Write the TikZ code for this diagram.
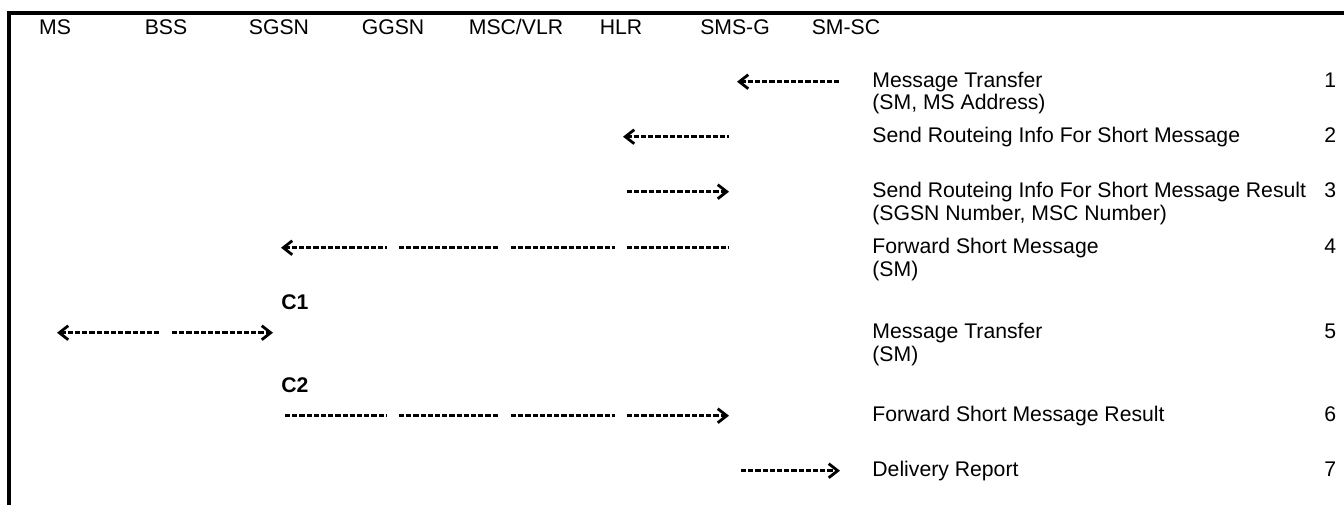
\documentclass[tikz,border=0pt]{standalone}
\usepackage{fontspec}
\setmainfont{Liberation Sans}
\usetikzlibrary{arrows.meta}

\begin{document}
\begin{tikzpicture}[x=0.5pt, y=-0.5pt,
    font=\fontsize{10.6}{12.7}\selectfont,
    hdr/.style={anchor=base, inner sep=0pt},
    lbl/.style={anchor=base west, inner sep=0pt},
    tag/.style={anchor=base west, inner sep=0pt, font=\fontsize{10.6}{12.7}\selectfont\bfseries},
    msg/.style={line width=1.7pt, dash pattern=on 2.6pt off 1pt, shorten <=3pt, shorten >=3pt},
    fwd/.style={msg, -{Straight Barb[length=4.5pt, width=7pt, line width=1.4pt]}},
    bwd/.style={msg, shorten <=1pt, {Straight Barb[length=4.5pt, width=7pt, line width=1.4pt]}-}]
    \useasboundingbox (0,0) rectangle (1344,505);
    % frame
    \draw[line width=2pt] (9,505) -- (9,13) -- (1344,13);
    % header
    \node[hdr] (ms)   at (55,34)  {MS};
    \node[hdr] (bss)  at (166,34) {BSS};
    \node[hdr] (sgsn) at (279,34) {SGSN};
    \node[hdr] (ggsn) at (393,34) {GGSN};
    \node[hdr] (msc)  at (516,34) {MSC/VLR};
    \node[hdr] (hlr)  at (621,34) {HLR};
    \node[hdr] (smsg) at (735,34) {SMS-G};
    \node[hdr] (smsc) at (846,34) {SM-SC};
    \coordinate (mscl) at ([xshift=-5.5pt]msc.base);
    % messages
    \node[lbl] (m1)  at (872,87)  {Message Transfer};
    \node[lbl] (m1b) at (872,109) {(SM, MS Address)};
    \node[lbl] (m2)  at (872,142) {Send Routeing Info For Short Message};
    \node[lbl] (m3)  at (872,197) {Send Routeing Info For Short Message Result};
    \node[lbl] (m3b) at (872,220) {(SGSN Number, MSC Number)};
    \node[lbl] (m4)  at (872,253) {Forward Short Message};
    \node[lbl] (m4b) at (872,276) {(SM)};
    \node[lbl] (m5)  at (872,338) {Message Transfer};
    \node[lbl] (m5b) at (872,361) {(SM)};
    \node[lbl] (m6)  at (872,421) {Forward Short Message Result};
    \node[lbl] (m7)  at (872,476) {Delivery Report};
    % step numbers
    \node[lbl] (n1) at (1324,87)  {1};
    \node[lbl] (n2) at (1324,142) {2};
    \node[lbl] (n3) at (1324,197) {3};
    \node[lbl] (n4) at (1324,253) {4};
    \node[lbl] (n5) at (1324,338) {5};
    \node[lbl] (n6) at (1324,421) {6};
    \node[lbl] (n7) at (1324,476) {7};
    \node[tag] (c1) at (281,309) {C1};
    \node[tag] (c2) at (281,392) {C2};
    % arrows
    \draw[bwd] (smsg |- m1.mid) -- (smsc |- m1.mid);
    \draw[bwd] (hlr |- m2.mid) -- (smsg |- m2.mid);
    \draw[fwd] (hlr |- m3.mid) -- (smsg |- m3.mid);
    \draw[bwd] (sgsn |- m4.mid) -- (ggsn |- m4.mid);
    \draw[msg] (ggsn |- m4.mid) -- (mscl |- m4.mid);
    \draw[msg] (mscl |- m4.mid) -- (hlr |- m4.mid);
    \draw[msg] (hlr |- m4.mid) -- (smsg |- m4.mid);
    \draw[bwd] (ms |- m5.mid) -- (bss |- m5.mid);
    \draw[fwd] (bss |- m5.mid) -- (sgsn |- m5.mid);
    \draw[msg] (sgsn |- m6.mid) -- (ggsn |- m6.mid);
    \draw[msg] (ggsn |- m6.mid) -- (mscl |- m6.mid);
    \draw[msg] (mscl |- m6.mid) -- (hlr |- m6.mid);
    \draw[fwd] (hlr |- m6.mid) -- (smsg |- m6.mid);
    \draw[fwd] (smsg |- m7.mid) -- (smsc |- m7.mid);
\end{tikzpicture}
\end{document}
